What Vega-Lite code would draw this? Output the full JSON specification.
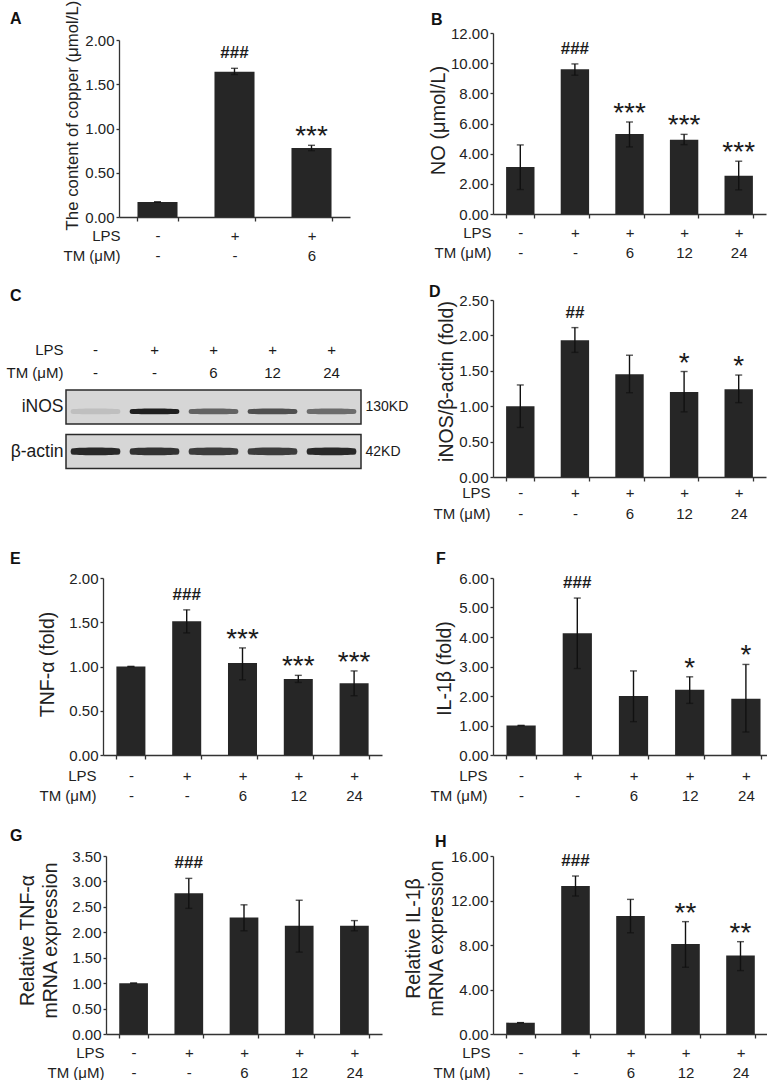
{
  "$schema": "https://vega.github.io/schema/vega-lite/v6.json",
  "background": "white",
  "padding": {"left": 6, "top": 0, "right": 0, "bottom": 0},
  "columns": 2,
  "align": "none",
  "bounds": "flush",
  "spacing": {"row": 101, "column": 103},
  "concat": [
    {
      "width": 285, "height": 166,
      "title": {"text": "A", "dx": -93, "dy": 30.5},
      "data": {"values": [
        {"grp": "-|-", "val": 0.17, "lo": 0.17, "hi": 0.17},
        {"grp": "+|-", "val": 1.64, "lo": 1.61, "hi": 1.68, "hash": "###"},
        {"grp": "+|6", "val": 0.78, "lo": 0.75, "hi": 0.81, "star": "***"}
      ]},
      "encoding": {"x": {"field": "grp", "type": "nominal", "sort": null,
        "scale": {"range": [16, 247], "paddingInner": 0.48, "paddingOuter": 0.24},
        "axis": {"labelExpr": "datum.label ? split(datum.label, '|') : ''", "title": ["LPS", "TM (μM)"], "offset": 18, "titleX": 17}}},
      "layer": [
        {"mark": {"type": "bar", "color": "#262626"},
         "encoding": {"y": {"field": "val", "type": "quantitative",
           "scale": {"domain": [0, 2], "nice": false, "range": [184, 7]},
           "axis": {"values": [0, 0.5, 1, 1.5, 2], "format": ".2f", "labelOverlap": false, "offset": -16, "title": "The content of copper (μmol/L)", "titleFontSize": 16.8, "titleX": -47, "titleY": 82}}}},
        {"mark": {"type": "rule", "color": "#111", "strokeWidth": 1.4},
         "encoding": {"y": {"field": "lo", "type": "quantitative", "axis": {"values": [0, 0.5, 1, 1.5, 2], "format": ".2f", "labelOverlap": false, "offset": -16, "title": "The content of copper (μmol/L)", "titleFontSize": 16.8, "titleX": -47, "titleY": 82}}, "y2": {"field": "hi"}}},
        {"mark": {"type": "tick", "color": "#111", "thickness": 1.4, "size": 7},
         "encoding": {"y": {"field": "lo", "type": "quantitative", "axis": {"values": [0, 0.5, 1, 1.5, 2], "format": ".2f", "labelOverlap": false, "offset": -16, "title": "The content of copper (μmol/L)", "titleFontSize": 16.8, "titleX": -47, "titleY": 82}}}},
        {"mark": {"type": "tick", "color": "#111", "thickness": 1.4, "size": 7},
         "encoding": {"y": {"field": "hi", "type": "quantitative", "axis": {"values": [0, 0.5, 1, 1.5, 2], "format": ".2f", "labelOverlap": false, "offset": -16, "title": "The content of copper (μmol/L)", "titleFontSize": 16.8, "titleX": -47, "titleY": 82}}}},
        {"transform": [{"filter": "isValid(datum.hash)"}],
         "mark": {"type": "text", "fontSize": 17, "fontWeight": "bold", "baseline": "alphabetic", "dy": -10, "color": "#1a1a1a"},
         "encoding": {"y": {"field": "hi", "type": "quantitative", "axis": {"values": [0, 0.5, 1, 1.5, 2], "format": ".2f", "labelOverlap": false, "offset": -16, "title": "The content of copper (μmol/L)", "titleFontSize": 16.8, "titleX": -47, "titleY": 82}}, "text": {"field": "hash"}}},
        {"transform": [{"filter": "isValid(datum.star)"}],
         "mark": {"type": "text", "fontSize": 28, "baseline": "alphabetic", "color": "#1a1a1a"},
         "encoding": {"y": {"field": "hi", "type": "quantitative", "axis": {"values": [0, 0.5, 1, 1.5, 2], "format": ".2f", "labelOverlap": false, "offset": -16, "title": "The content of copper (μmol/L)", "titleFontSize": 16.8, "titleX": -47, "titleY": 82}}, "text": {"field": "star"}}}
      ]
    },
    {
      "width": 273, "height": 166,
      "title": {"text": "B", "dx": -62, "dy": 5.5},
      "data": {"values": [
        {"grp": "-|-", "val": 3.12, "lo": 1.62, "hi": 4.58},
        {"grp": "+|-", "val": 9.6, "lo": 9.2, "hi": 9.95, "hash": "###"},
        {"grp": "+|6", "val": 5.3, "lo": 4.45, "hi": 6.1, "star": "***"},
        {"grp": "+|12", "val": 4.92, "lo": 4.6, "hi": 5.28, "star": "***"},
        {"grp": "+|24", "val": 2.54, "lo": 1.6, "hi": 3.5, "star": "***"}
      ]},
      "encoding": {"x": {"field": "grp", "type": "nominal", "sort": null,
        "scale": {"paddingInner": 0.48, "paddingOuter": 0.24},
        "axis": {"labelExpr": "datum.label ? split(datum.label, '|') : ''", "title": ["LPS", "TM (μM)"], "offset": 15, "titleX": -2}}},
      "layer": [
        {"mark": {"type": "bar", "color": "#262626"},
         "encoding": {"y": {"field": "val", "type": "quantitative",
           "scale": {"domain": [0, 12], "nice": false, "range": [181, 0]},
           "axis": {"values": [0, 2, 4, 6, 8, 10, 12], "format": ".2f", "labelOverlap": false, "title": "NO (μmol/L)", "titleFontSize": 20, "titleX": -55, "titleY": 87}}}},
        {"mark": {"type": "rule", "color": "#111", "strokeWidth": 1.4},
         "encoding": {"y": {"field": "lo", "type": "quantitative", "axis": {"values": [0, 2, 4, 6, 8, 10, 12], "format": ".2f", "labelOverlap": false, "title": "NO (μmol/L)", "titleFontSize": 20, "titleX": -55, "titleY": 87}}, "y2": {"field": "hi"}}},
        {"mark": {"type": "tick", "color": "#111", "thickness": 1.4, "size": 7},
         "encoding": {"y": {"field": "lo", "type": "quantitative", "axis": {"values": [0, 2, 4, 6, 8, 10, 12], "format": ".2f", "labelOverlap": false, "title": "NO (μmol/L)", "titleFontSize": 20, "titleX": -55, "titleY": 87}}}},
        {"mark": {"type": "tick", "color": "#111", "thickness": 1.4, "size": 7},
         "encoding": {"y": {"field": "hi", "type": "quantitative", "axis": {"values": [0, 2, 4, 6, 8, 10, 12], "format": ".2f", "labelOverlap": false, "title": "NO (μmol/L)", "titleFontSize": 20, "titleX": -55, "titleY": 87}}}},
        {"transform": [{"filter": "isValid(datum.hash)"}],
         "mark": {"type": "text", "fontSize": 17, "fontWeight": "bold", "baseline": "alphabetic", "dy": -10, "color": "#1a1a1a"},
         "encoding": {"y": {"field": "hi", "type": "quantitative", "axis": {"values": [0, 2, 4, 6, 8, 10, 12], "format": ".2f", "labelOverlap": false, "title": "NO (μmol/L)", "titleFontSize": 20, "titleX": -55, "titleY": 87}}, "text": {"field": "hash"}}},
        {"transform": [{"filter": "isValid(datum.star)"}],
         "mark": {"type": "text", "fontSize": 28, "baseline": "alphabetic", "color": "#1a1a1a"},
         "encoding": {"y": {"field": "hi", "type": "quantitative", "axis": {"values": [0, 2, 4, 6, 8, 10, 12], "format": ".2f", "labelOverlap": false, "title": "NO (μmol/L)", "titleFontSize": 20, "titleX": -55, "titleY": 87}}, "text": {"field": "star"}}}
      ]
    },
    {
      "width": 287, "height": 177,
      "title": {"text": "C", "dx": -93, "dy": 8},
      "layer": [
        {
          "data": {"values": [
            {"row": "iNOS", "first": "-|-", "last": "+|24"},
            {"row": "β-actin", "first": "-|-", "last": "+|24"}
          ]},
          "mark": {"type": "rect", "fill": "#d6d6d6", "stroke": "#2a2a2a", "strokeWidth": 1.5},
          "encoding": {
            "x": {"field": "first", "type": "nominal", "bandPosition": 0,
              "scale": {"domain": ["-|-", "+|-", "+|6", "+|12", "+|24"], "range": [-37, 258], "paddingInner": 0, "paddingOuter": 0},
              "axis": null},
            "x2": {"field": "last", "bandPosition": 1},
            "y": {"field": "row", "type": "nominal", "sort": null,
              "scale": {"domain": ["LPS|TM (μM)", "iNOS", "β-actin"], "range": [45.5, 168.5], "paddingInner": 0.236, "paddingOuter": 0},
              "axis": {"orient": "left", "offset": 37, "domain": false, "ticks": false, "tickSize": 0, "labelPadding": 3,
                "labelExpr": "split(datum.label, '|')", "labelLineHeight": 23, "labelColor": "#1a1a1a",
                "labelFontSize": {"condition": {"test": "datum.value === 'LPS|TM (μM)'", "value": 15}, "value": 17.5},
                "labelBaseline": {"condition": {"test": "datum.value === 'LPS|TM (μM)'", "value": "top"}, "value": "middle"},
                "labelOffset": {"condition": {"test": "datum.value === 'LPS|TM (μM)'", "value": -19}, "value": 0},
                "title": null}}
          }
        },
        {
          "data": {"values": [
            {"lab": "-|-", "row": "iNOS", "intensity": 0.12},
            {"lab": "+|-", "row": "iNOS", "intensity": 0.95},
            {"lab": "+|6", "row": "iNOS", "intensity": 0.6},
            {"lab": "+|12", "row": "iNOS", "intensity": 0.7},
            {"lab": "+|24", "row": "iNOS", "intensity": 0.55},
            {"lab": "-|-", "row": "β-actin", "intensity": 0.9},
            {"lab": "+|-", "row": "β-actin", "intensity": 0.85},
            {"lab": "+|6", "row": "β-actin", "intensity": 0.8},
            {"lab": "+|12", "row": "β-actin", "intensity": 0.8},
            {"lab": "+|24", "row": "β-actin", "intensity": 0.9}
          ]},
          "mark": {"type": "point", "filled": true, "color": "#151515", "size": 2500, "strokeWidth": 0},
          "encoding": {
            "x": {"field": "lab", "type": "nominal", "axis": null},
            "y": {"field": "row", "type": "nominal", "sort": null,
              "axis": {"orient": "right", "offset": -29, "domain": false, "ticks": false, "tickSize": 0, "labelPadding": 4, "labelFontSize": 14, "labelAlign": "left", "labelColor": "#1a1a1a",
                "labelExpr": "datum.value === 'iNOS' ? '130KD' : datum.value === 'β-actin' ? '42KD' : ''", "title": null}},
            "opacity": {"field": "intensity", "type": "quantitative", "scale": {"domain": [0, 1], "range": [0, 1]}, "legend": null},
            "shape": {"field": "row", "type": "nominal", "sort": null, "legend": null,
              "scale": {"domain": ["iNOS", "β-actin"], "range": [
                "M-0.95,0.09 C-0.5,0.05 0.5,0.05 0.95,0.09 C1.01,0.13 1.01,0.23 0.95,0.27 C0.5,0.3 -0.5,0.3 -0.95,0.27 C-1.01,0.23 -1.01,0.13 -0.95,0.09 Z",
                "M-0.95,-0.12 C-0.5,-0.17 0.5,-0.17 0.95,-0.12 C1.01,-0.06 1.01,0.06 0.95,0.12 C0.5,0.16 -0.5,0.16 -0.95,0.12 C-1.01,0.06 -1.01,-0.06 -0.95,-0.12 Z"
              ]}}
          }
        },
        {
          "data": {"values": [
            {"lab": "-|-", "row": "LPS|TM (μM)"},
            {"lab": "+|-", "row": "LPS|TM (μM)"},
            {"lab": "+|6", "row": "LPS|TM (μM)"},
            {"lab": "+|12", "row": "LPS|TM (μM)"},
            {"lab": "+|24", "row": "LPS|TM (μM)"}
          ]},
          "mark": {"type": "text", "baseline": "top", "dy": -19, "lineBreak": "|", "lineHeight": 23, "fontSize": 15, "color": "#1a1a1a"},
          "encoding": {
            "x": {"field": "lab", "type": "nominal", "axis": null},
            "y": {"field": "row", "type": "nominal", "axis": null},
            "text": {"field": "lab"}
          }
        }
      ],
      "resolve": {"axis": {"y": "independent"}}
    },
    {
      "width": 273, "height": 177,
      "title": {"text": "D", "dx": -64, "dy": 11},
      "data": {"values": [
        {"grp": "-|-", "val": 1.0, "lo": 0.7, "hi": 1.3},
        {"grp": "+|-", "val": 1.93, "lo": 1.76, "hi": 2.11, "hash": "##"},
        {"grp": "+|6", "val": 1.45, "lo": 1.19, "hi": 1.72},
        {"grp": "+|12", "val": 1.2, "lo": 0.92, "hi": 1.49, "star": "*"},
        {"grp": "+|24", "val": 1.24, "lo": 1.05, "hi": 1.44, "star": "*"}
      ]},
      "encoding": {"x": {"field": "grp", "type": "nominal", "sort": null,
        "scale": {"paddingInner": 0.48, "paddingOuter": 0.24},
        "axis": {"labelExpr": "datum.label ? split(datum.label, '|') : ''", "title": ["LPS", "TM (μM)"], "titleX": -3, "labelPadding": 4, "labelLineHeight": 21, "titleY": 8, "titleLineHeight": 21}}},
      "layer": [
        {"mark": {"type": "bar", "color": "#262626"},
         "encoding": {"y": {"field": "val", "type": "quantitative",
           "scale": {"domain": [0, 2.5], "nice": false},
           "axis": {"values": [0, 0.5, 1, 1.5, 2, 2.5], "format": ".2f", "labelOverlap": false, "title": "iNOS/β-actin (fold)", "titleFontSize": 19.5, "titleX": -47, "titleY": 81}}}},
        {"mark": {"type": "rule", "color": "#111", "strokeWidth": 1.4},
         "encoding": {"y": {"field": "lo", "type": "quantitative", "axis": {"values": [0, 0.5, 1, 1.5, 2, 2.5], "format": ".2f", "labelOverlap": false, "title": "iNOS/β-actin (fold)", "titleFontSize": 19.5, "titleX": -47, "titleY": 81}}, "y2": {"field": "hi"}}},
        {"mark": {"type": "tick", "color": "#111", "thickness": 1.4, "size": 7},
         "encoding": {"y": {"field": "lo", "type": "quantitative", "axis": {"values": [0, 0.5, 1, 1.5, 2, 2.5], "format": ".2f", "labelOverlap": false, "title": "iNOS/β-actin (fold)", "titleFontSize": 19.5, "titleX": -47, "titleY": 81}}}},
        {"mark": {"type": "tick", "color": "#111", "thickness": 1.4, "size": 7},
         "encoding": {"y": {"field": "hi", "type": "quantitative", "axis": {"values": [0, 0.5, 1, 1.5, 2, 2.5], "format": ".2f", "labelOverlap": false, "title": "iNOS/β-actin (fold)", "titleFontSize": 19.5, "titleX": -47, "titleY": 81}}}},
        {"transform": [{"filter": "isValid(datum.hash)"}],
         "mark": {"type": "text", "fontSize": 17, "fontWeight": "bold", "baseline": "alphabetic", "dy": -10, "color": "#1a1a1a"},
         "encoding": {"y": {"field": "hi", "type": "quantitative", "axis": {"values": [0, 0.5, 1, 1.5, 2, 2.5], "format": ".2f", "labelOverlap": false, "title": "iNOS/β-actin (fold)", "titleFontSize": 19.5, "titleX": -47, "titleY": 81}}, "text": {"field": "hash"}}},
        {"transform": [{"filter": "isValid(datum.star)"}],
         "mark": {"type": "text", "fontSize": 28, "baseline": "alphabetic", "color": "#1a1a1a"},
         "encoding": {"y": {"field": "hi", "type": "quantitative", "axis": {"values": [0, 0.5, 1, 1.5, 2, 2.5], "format": ".2f", "labelOverlap": false, "title": "iNOS/β-actin (fold)", "titleFontSize": 19.5, "titleX": -47, "titleY": 81}}, "text": {"field": "star"}}}
      ]
    },
    {
      "width": 279, "height": 177,
      "title": {"text": "E", "dx": -93, "dy": 0},
      "data": {"values": [
        {"grp": "-|-", "val": 1.0, "lo": 1.0, "hi": 1.0},
        {"grp": "+|-", "val": 1.51, "lo": 1.38, "hi": 1.64, "hash": "###"},
        {"grp": "+|6", "val": 1.04, "lo": 0.85, "hi": 1.21, "star": "***"},
        {"grp": "+|12", "val": 0.86, "lo": 0.82, "hi": 0.9, "star": "***"},
        {"grp": "+|24", "val": 0.81, "lo": 0.67, "hi": 0.95, "star": "***"}
      ]},
      "encoding": {"x": {"field": "grp", "type": "nominal", "sort": null,
        "scale": {"paddingInner": 0.48, "paddingOuter": 0.24},
        "axis": {"labelExpr": "datum.label ? split(datum.label, '|') : ''", "title": ["LPS", "TM (μM)"], "titleX": -7, "labelPadding": 9, "titleY": 13}}},
      "layer": [
        {"mark": {"type": "bar", "color": "#262626"},
         "encoding": {"y": {"field": "val", "type": "quantitative",
           "scale": {"domain": [0, 2], "nice": false},
           "axis": {"values": [0, 0.5, 1, 1.5, 2], "format": ".2f", "labelOverlap": false, "title": "TNF-α (fold)", "titleFontSize": 19.5, "titleX": -56, "titleY": 86}}}},
        {"mark": {"type": "rule", "color": "#111", "strokeWidth": 1.4},
         "encoding": {"y": {"field": "lo", "type": "quantitative", "axis": {"values": [0, 0.5, 1, 1.5, 2], "format": ".2f", "labelOverlap": false, "title": "TNF-α (fold)", "titleFontSize": 19.5, "titleX": -56, "titleY": 86}}, "y2": {"field": "hi"}}},
        {"mark": {"type": "tick", "color": "#111", "thickness": 1.4, "size": 7},
         "encoding": {"y": {"field": "lo", "type": "quantitative", "axis": {"values": [0, 0.5, 1, 1.5, 2], "format": ".2f", "labelOverlap": false, "title": "TNF-α (fold)", "titleFontSize": 19.5, "titleX": -56, "titleY": 86}}}},
        {"mark": {"type": "tick", "color": "#111", "thickness": 1.4, "size": 7},
         "encoding": {"y": {"field": "hi", "type": "quantitative", "axis": {"values": [0, 0.5, 1, 1.5, 2], "format": ".2f", "labelOverlap": false, "title": "TNF-α (fold)", "titleFontSize": 19.5, "titleX": -56, "titleY": 86}}}},
        {"transform": [{"filter": "isValid(datum.hash)"}],
         "mark": {"type": "text", "fontSize": 17, "fontWeight": "bold", "baseline": "alphabetic", "dy": -10, "color": "#1a1a1a"},
         "encoding": {"y": {"field": "hi", "type": "quantitative", "axis": {"values": [0, 0.5, 1, 1.5, 2], "format": ".2f", "labelOverlap": false, "title": "TNF-α (fold)", "titleFontSize": 19.5, "titleX": -56, "titleY": 86}}, "text": {"field": "hash"}}},
        {"transform": [{"filter": "isValid(datum.star)"}],
         "mark": {"type": "text", "fontSize": 28, "baseline": "alphabetic", "color": "#1a1a1a"},
         "encoding": {"y": {"field": "hi", "type": "quantitative", "axis": {"values": [0, 0.5, 1, 1.5, 2], "format": ".2f", "labelOverlap": false, "title": "TNF-α (fold)", "titleFontSize": 19.5, "titleX": -56, "titleY": 86}}, "text": {"field": "star"}}}
      ]
    },
    {
      "width": 281, "height": 177,
      "title": {"text": "F", "dx": -57, "dy": 0},
      "data": {"values": [
        {"grp": "-|-", "val": 1.0, "lo": 1.0, "hi": 1.0},
        {"grp": "+|-", "val": 4.13, "lo": 2.93, "hi": 5.32, "hash": "###"},
        {"grp": "+|6", "val": 2.0, "lo": 1.13, "hi": 2.85},
        {"grp": "+|12", "val": 2.21, "lo": 1.75, "hi": 2.65, "star": "*"},
        {"grp": "+|24", "val": 1.91, "lo": 0.78, "hi": 3.07, "star": "*"}
      ]},
      "encoding": {"x": {"field": "grp", "type": "nominal", "sort": null,
        "scale": {"paddingInner": 0.48, "paddingOuter": 0.24},
        "axis": {"labelExpr": "datum.label ? split(datum.label, '|') : ''", "title": ["LPS", "TM (μM)"], "titleX": -6, "labelPadding": 9, "titleY": 13}}},
      "layer": [
        {"mark": {"type": "bar", "color": "#262626"},
         "encoding": {"y": {"field": "val", "type": "quantitative",
           "scale": {"domain": [0, 6], "nice": false},
           "axis": {"values": [0, 1, 2, 3, 4, 5, 6], "format": ".2f", "labelOverlap": false, "title": "IL-1β (fold)", "titleFontSize": 19.5, "titleX": -49, "titleY": 90}}}},
        {"mark": {"type": "rule", "color": "#111", "strokeWidth": 1.4},
         "encoding": {"y": {"field": "lo", "type": "quantitative", "axis": {"values": [0, 1, 2, 3, 4, 5, 6], "format": ".2f", "labelOverlap": false, "title": "IL-1β (fold)", "titleFontSize": 19.5, "titleX": -49, "titleY": 90}}, "y2": {"field": "hi"}}},
        {"mark": {"type": "tick", "color": "#111", "thickness": 1.4, "size": 7},
         "encoding": {"y": {"field": "lo", "type": "quantitative", "axis": {"values": [0, 1, 2, 3, 4, 5, 6], "format": ".2f", "labelOverlap": false, "title": "IL-1β (fold)", "titleFontSize": 19.5, "titleX": -49, "titleY": 90}}}},
        {"mark": {"type": "tick", "color": "#111", "thickness": 1.4, "size": 7},
         "encoding": {"y": {"field": "hi", "type": "quantitative", "axis": {"values": [0, 1, 2, 3, 4, 5, 6], "format": ".2f", "labelOverlap": false, "title": "IL-1β (fold)", "titleFontSize": 19.5, "titleX": -49, "titleY": 90}}}},
        {"transform": [{"filter": "isValid(datum.hash)"}],
         "mark": {"type": "text", "fontSize": 17, "fontWeight": "bold", "baseline": "alphabetic", "dy": -10, "color": "#1a1a1a"},
         "encoding": {"y": {"field": "hi", "type": "quantitative", "axis": {"values": [0, 1, 2, 3, 4, 5, 6], "format": ".2f", "labelOverlap": false, "title": "IL-1β (fold)", "titleFontSize": 19.5, "titleX": -49, "titleY": 90}}, "text": {"field": "hash"}}},
        {"transform": [{"filter": "isValid(datum.star)"}],
         "mark": {"type": "text", "fontSize": 28, "baseline": "alphabetic", "color": "#1a1a1a"},
         "encoding": {"y": {"field": "hi", "type": "quantitative", "axis": {"values": [0, 1, 2, 3, 4, 5, 6], "format": ".2f", "labelOverlap": false, "title": "IL-1β (fold)", "titleFontSize": 19.5, "titleX": -49, "titleY": 90}}, "text": {"field": "star"}}}
      ]
    },
    {
      "width": 285, "height": 178,
      "title": {"text": "G", "dx": -93, "dy": -1},
      "data": {"values": [
        {"grp": "-|-", "val": 1.0, "lo": 1.0, "hi": 1.0},
        {"grp": "+|-", "val": 2.77, "lo": 2.47, "hi": 3.06, "hash": "###"},
        {"grp": "+|6", "val": 2.29, "lo": 2.03, "hi": 2.54},
        {"grp": "+|12", "val": 2.13, "lo": 1.61, "hi": 2.63},
        {"grp": "+|24", "val": 2.13, "lo": 2.03, "hi": 2.23}
      ]},
      "encoding": {"x": {"field": "grp", "type": "nominal", "sort": null,
        "scale": {"range": [3, 279], "paddingInner": 0.48, "paddingOuter": 0.24},
        "axis": {"labelExpr": "datum.label ? split(datum.label, '|') : ''", "title": ["LPS", "TM (μM)"], "titleX": 1}}},
      "layer": [
        {"mark": {"type": "bar", "color": "#262626"},
         "encoding": {"y": {"field": "val", "type": "quantitative",
           "scale": {"domain": [0, 3.5], "nice": false},
           "axis": {"values": [0, 0.5, 1, 1.5, 2, 2.5, 3, 3.5], "format": ".2f", "labelOverlap": false, "offset": -3, "title": ["Relative TNF-α", "mRNA expression"], "titleFontSize": 19.5, "titleLineHeight": 23, "titleX": -79, "titleY": 84}}}},
        {"mark": {"type": "rule", "color": "#111", "strokeWidth": 1.4},
         "encoding": {"y": {"field": "lo", "type": "quantitative", "axis": {"values": [0, 0.5, 1, 1.5, 2, 2.5, 3, 3.5], "format": ".2f", "labelOverlap": false, "offset": -3, "title": ["Relative TNF-α", "mRNA expression"], "titleFontSize": 19.5, "titleLineHeight": 23, "titleX": -79, "titleY": 84}}, "y2": {"field": "hi"}}},
        {"mark": {"type": "tick", "color": "#111", "thickness": 1.4, "size": 7},
         "encoding": {"y": {"field": "lo", "type": "quantitative", "axis": {"values": [0, 0.5, 1, 1.5, 2, 2.5, 3, 3.5], "format": ".2f", "labelOverlap": false, "offset": -3, "title": ["Relative TNF-α", "mRNA expression"], "titleFontSize": 19.5, "titleLineHeight": 23, "titleX": -79, "titleY": 84}}}},
        {"mark": {"type": "tick", "color": "#111", "thickness": 1.4, "size": 7},
         "encoding": {"y": {"field": "hi", "type": "quantitative", "axis": {"values": [0, 0.5, 1, 1.5, 2, 2.5, 3, 3.5], "format": ".2f", "labelOverlap": false, "offset": -3, "title": ["Relative TNF-α", "mRNA expression"], "titleFontSize": 19.5, "titleLineHeight": 23, "titleX": -79, "titleY": 84}}}},
        {"transform": [{"filter": "isValid(datum.hash)"}],
         "mark": {"type": "text", "fontSize": 17, "fontWeight": "bold", "baseline": "alphabetic", "dy": -10, "color": "#1a1a1a"},
         "encoding": {"y": {"field": "hi", "type": "quantitative", "axis": {"values": [0, 0.5, 1, 1.5, 2, 2.5, 3, 3.5], "format": ".2f", "labelOverlap": false, "offset": -3, "title": ["Relative TNF-α", "mRNA expression"], "titleFontSize": 19.5, "titleLineHeight": 23, "titleX": -79, "titleY": 84}}, "text": {"field": "hash"}}}
      ]
    },
    {
      "width": 275, "height": 178,
      "title": {"text": "H", "dx": -58, "dy": 5},
      "data": {"values": [
        {"grp": "-|-", "val": 1.02, "lo": 1.02, "hi": 1.02},
        {"grp": "+|-", "val": 13.3, "lo": 12.4, "hi": 14.2, "hash": "###"},
        {"grp": "+|6", "val": 10.6, "lo": 9.1, "hi": 12.1},
        {"grp": "+|12", "val": 8.1, "lo": 6.0, "hi": 10.1, "star": "**"},
        {"grp": "+|24", "val": 7.05, "lo": 5.7, "hi": 8.3, "star": "**"}
      ]},
      "encoding": {"x": {"field": "grp", "type": "nominal", "sort": null,
        "scale": {"paddingInner": 0.48, "paddingOuter": 0.24},
        "axis": {"labelExpr": "datum.label ? split(datum.label, '|') : ''", "title": ["LPS", "TM (μM)"], "titleX": -3}}},
      "layer": [
        {"mark": {"type": "bar", "color": "#262626"},
         "encoding": {"y": {"field": "val", "type": "quantitative",
           "scale": {"domain": [0, 16], "nice": false},
           "axis": {"values": [0, 4, 8, 12, 16], "format": ".2f", "labelOverlap": false, "title": ["Relative IL-1β", "mRNA expression"], "titleFontSize": 19.5, "titleLineHeight": 23, "titleX": -80, "titleY": 82}}}},
        {"mark": {"type": "rule", "color": "#111", "strokeWidth": 1.4},
         "encoding": {"y": {"field": "lo", "type": "quantitative", "axis": {"values": [0, 4, 8, 12, 16], "format": ".2f", "labelOverlap": false, "title": ["Relative IL-1β", "mRNA expression"], "titleFontSize": 19.5, "titleLineHeight": 23, "titleX": -80, "titleY": 82}}, "y2": {"field": "hi"}}},
        {"mark": {"type": "tick", "color": "#111", "thickness": 1.4, "size": 7},
         "encoding": {"y": {"field": "lo", "type": "quantitative", "axis": {"values": [0, 4, 8, 12, 16], "format": ".2f", "labelOverlap": false, "title": ["Relative IL-1β", "mRNA expression"], "titleFontSize": 19.5, "titleLineHeight": 23, "titleX": -80, "titleY": 82}}}},
        {"mark": {"type": "tick", "color": "#111", "thickness": 1.4, "size": 7},
         "encoding": {"y": {"field": "hi", "type": "quantitative", "axis": {"values": [0, 4, 8, 12, 16], "format": ".2f", "labelOverlap": false, "title": ["Relative IL-1β", "mRNA expression"], "titleFontSize": 19.5, "titleLineHeight": 23, "titleX": -80, "titleY": 82}}}},
        {"transform": [{"filter": "isValid(datum.hash)"}],
         "mark": {"type": "text", "fontSize": 17, "fontWeight": "bold", "baseline": "alphabetic", "dy": -10, "color": "#1a1a1a"},
         "encoding": {"y": {"field": "hi", "type": "quantitative", "axis": {"values": [0, 4, 8, 12, 16], "format": ".2f", "labelOverlap": false, "title": ["Relative IL-1β", "mRNA expression"], "titleFontSize": 19.5, "titleLineHeight": 23, "titleX": -80, "titleY": 82}}, "text": {"field": "hash"}}},
        {"transform": [{"filter": "isValid(datum.star)"}],
         "mark": {"type": "text", "fontSize": 28, "baseline": "alphabetic", "color": "#1a1a1a"},
         "encoding": {"y": {"field": "hi", "type": "quantitative", "axis": {"values": [0, 4, 8, 12, 16], "format": ".2f", "labelOverlap": false, "title": ["Relative IL-1β", "mRNA expression"], "titleFontSize": 19.5, "titleLineHeight": 23, "titleX": -80, "titleY": 82}}, "text": {"field": "star"}}}
      ]
    }
  ],
  "config": {
    "font": "Liberation Sans",
    "view": {"stroke": null},
    "axis": {"grid": false, "domainColor": "#333333", "tickColor": "#333333", "labelColor": "#222222", "titleColor": "#222222",
      "labelFont": "Liberation Sans", "titleFont": "Liberation Sans", "labelFontSize": 15, "titleFontWeight": "normal"},
    "axisX": {"tickBand": "extent", "tickSize": 4, "tickWidth": 1.3, "domainWidth": 1.3, "labelAngle": 0, "labelBaseline": "top",
      "labelPadding": 7, "labelLineHeight": 20, "labelOverlap": false, "labelFlush": false, "titleAlign": "right", "titleBaseline": "top",
      "titleY": 11, "titleLineHeight": 20, "titleFontSize": 15, "titleAngle": 0},
    "axisY": {"tickSize": 3, "tickWidth": 1.3, "domainWidth": 1.3, "labelPadding": 2, "labelOverlap": false, "titleAngle": -90, "titleBaseline": "middle", "titleAlign": "center"},
    "title": {"anchor": "start", "frame": "group", "fontSize": 16, "fontWeight": "bold", "baseline": "middle", "offset": 0, "color": "#111111", "font": "Liberation Sans"}
  }
}
